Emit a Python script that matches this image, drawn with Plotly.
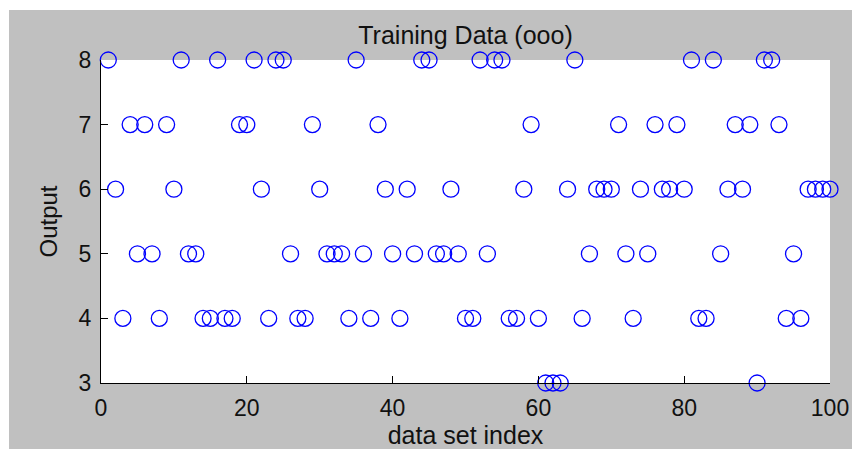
import plotly.graph_objects as go

# Training samples: index of each sample and its output class
sample_index = list(range(1, 101))
output_class = [
    8, 6, 4, 7, 5, 7, 5, 4, 7, 6,
    8, 5, 5, 4, 4, 8, 4, 4, 7, 7,
    8, 6, 4, 8, 8, 5, 4, 4, 7, 6,
    5, 5, 5, 4, 8, 5, 4, 7, 6, 5,
    4, 6, 5, 8, 8, 5, 5, 6, 5, 4,
    4, 8, 5, 8, 8, 4, 4, 6, 7, 4,
    3, 3, 3, 6, 8, 4, 5, 6, 6, 6,
    7, 5, 4, 6, 5, 7, 6, 6, 7, 6,
    8, 4, 4, 8, 5, 6, 7, 6, 7, 3,
    8, 8, 7, 4, 5, 4, 6, 6, 6, 6,
]
x_ticks = [0, 20, 40, 60, 80, 100]
y_ticks = [3, 4, 5, 6, 7, 8]

W, H = 852, 449
L, R, T, B = 101, 22, 60, 66
FAMILY = "Liberation Sans, Arial, Helvetica, sans-serif"
TICK_FONT = dict(family=FAMILY, size=23, color="#111111")
LABEL_FONT = dict(family=FAMILY, size=25, color="#111111")

fig = go.Figure(
    go.Scatter(
        x=sample_index,
        y=output_class,
        mode="markers",
        marker=dict(symbol="circle-open", size=16, color="#0000FF",
                    line=dict(width=1.3, color="#0000FF")),
        cliponaxis=False,
        showlegend=False,
    )
)

axis_common = dict(
    showgrid=False, zeroline=False,
    showline=True, linecolor="black", linewidth=1,
    ticks="inside", ticklen=7, tickcolor="black", tickwidth=1,
    tickfont=TICK_FONT, mirror=False, automargin=False,
)

fig.update_xaxes(range=[0, 100], tickvals=x_ticks, ticklabelstandoff=4,
                 title=dict(text="data set index", font=LABEL_FONT, standoff=6),
                 **axis_common)
fig.update_yaxes(range=[3, 8], tickvals=y_ticks, ticklabelstandoff=4,
                 title=dict(text="Output", font=dict(LABEL_FONT, size=24), standoff=14),
                 **axis_common)

px_w = W - L - R
px_h = H - T - B

def px_to_paper_x(px):
    return (px - L) / px_w

def px_to_paper_y(py):
    return (H - B - py) / px_h

# thin white strips along the top and left edges of the figure
fig.add_shape(type="rect", xref="paper", yref="paper",
              x0=px_to_paper_x(0), x1=px_to_paper_x(W),
              y0=px_to_paper_y(10), y1=px_to_paper_y(0),
              fillcolor="white", line=dict(width=0), layer="below")
fig.add_shape(type="rect", xref="paper", yref="paper",
              x0=px_to_paper_x(0), x1=px_to_paper_x(9),
              y0=px_to_paper_y(H), y1=px_to_paper_y(0),
              fillcolor="white", line=dict(width=0), layer="below")

fig.update_layout(
    width=W, height=H, autosize=False,
    margin=dict(l=L, r=R, t=T, b=B, pad=0, autoexpand=False),
    paper_bgcolor="#C0C0C0",
    plot_bgcolor="white",
    title=dict(text="Training Data (ooo)", font=LABEL_FONT,
               x=(L + px_w / 2) / W, xanchor="center",
               y=1 - 35 / H, yanchor="middle", automargin=False),
)

fig.write_html("out.html")
